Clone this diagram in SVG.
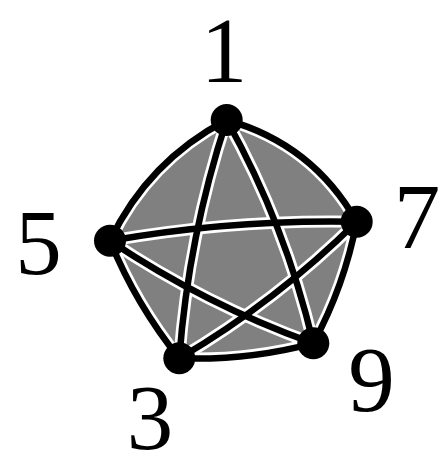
<svg xmlns="http://www.w3.org/2000/svg" width="442" height="470" viewBox="0 0 442 470">
<style>
.halo{fill:none;stroke:#fff;stroke-width:12;stroke-linecap:round}
.edge{fill:none;stroke:#000;stroke-width:6.5;stroke-linecap:round}
.node{fill:#000}
.lbl{font-family:"Liberation Serif","DejaVu Serif",serif;font-size:93px;fill:#000;text-anchor:middle}
</style>
<defs>
<path id="e17" d="M226.7,120 Q312.65,144.07 356.7,221.7"/>
<path id="e79" d="M356.7,221.7 Q344.42,285.86 313.3,343.3"/>
<path id="e93" d="M313.3,343.3 Q247.4,360.7 179.3,358.3"/>
<path id="e35" d="M179.3,358.3 Q136,304.6 110,240.7"/>
<path id="e51" d="M110,240.7 Q148.22,160.89 226.7,120"/>
<path id="e13" d="M226.7,120 Q188.5,236.3 179.3,358.3"/>
<path id="e19" d="M226.7,120 Q285.5,225.5 313.3,343.3"/>
<path id="e57" d="M110,240.7 Q232.4,219.2 356.7,221.7"/>
<path id="e59" d="M110,240.7 Q205.34,304.5 313.3,343.3"/>
<path id="e73" d="M356.7,221.7 Q276.5,301.1 179.3,358.3"/>
</defs>
<path d="M226.7,120 Q312.65,144.07 356.7,221.7 Q344.42,285.86 313.3,343.3 Q247.4,360.7 179.3,358.3 Q136,304.6 110,240.7 Q148.22,160.89 226.7,120 Z" fill="#808080"/>
<g id="connectors">
<g class="halo">
<use href="#e17"/><use href="#e79"/><use href="#e93"/><use href="#e35"/><use href="#e51"/>
<use href="#e13"/><use href="#e19"/><use href="#e57"/><use href="#e59"/><use href="#e73"/>
</g>
<g class="edge">
<use href="#e17"/><use href="#e79"/><use href="#e93"/><use href="#e35"/><use href="#e51"/>
<use href="#e13"/><use href="#e19"/><use href="#e57"/><use href="#e59"/><use href="#e73"/>
</g>
</g>
<g id="node1"><circle class="node" cx="226.7" cy="120" r="16"/><text class="lbl" x="224" y="82">1</text></g>
<g id="node7"><circle class="node" cx="356.7" cy="221.7" r="16"/><text class="lbl" x="417" y="248">7</text></g>
<g id="node9"><circle class="node" cx="313.3" cy="343.3" r="16"/><text class="lbl" x="371.5" y="411">9</text></g>
<g id="node3"><circle class="node" cx="179.3" cy="358.3" r="16"/><text class="lbl" x="150" y="449">3</text></g>
<g id="node5"><circle class="node" cx="110" cy="240.7" r="16"/><text class="lbl" x="38.5" y="274">5</text></g>
</svg>
